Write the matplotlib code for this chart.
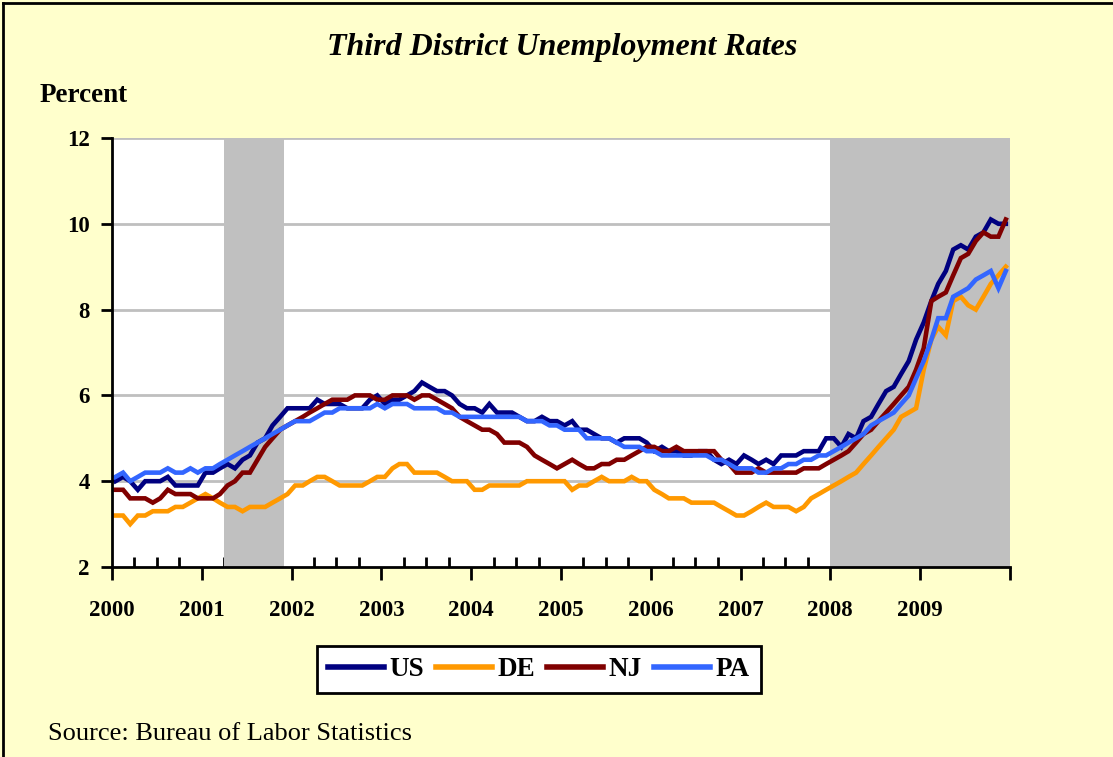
import matplotlib
matplotlib.use("Agg")
import matplotlib.pyplot as plt
import matplotlib.dates as mdates
from matplotlib.ticker import FuncFormatter
import pandas as pd

plt.rcParams['font.family'] = ['Liberation Serif', 'DejaVu Serif']

# ---- data (monthly, Jan 2000 - Dec 2009, percent) ----
us = [4.0, 4.1, 4.0, 3.8, 4.0, 4.0, 4.0, 4.1, 3.9, 3.9, 3.9, 3.9,
      4.2, 4.2, 4.3, 4.4, 4.3, 4.5, 4.6, 4.9, 5.0, 5.3, 5.5, 5.7,
      5.7, 5.7, 5.7, 5.9, 5.8, 5.8, 5.8, 5.7, 5.7, 5.7, 5.9, 6.0,
      5.8, 5.9, 5.9, 6.0, 6.1, 6.3, 6.2, 6.1, 6.1, 6.0, 5.8, 5.7,
      5.7, 5.6, 5.8, 5.6, 5.6, 5.6, 5.5, 5.4, 5.4, 5.5, 5.4, 5.4,
      5.3, 5.4, 5.2, 5.2, 5.1, 5.0, 5.0, 4.9, 5.0, 5.0, 5.0, 4.9,
      4.7, 4.8, 4.7, 4.7, 4.6, 4.6, 4.7, 4.7, 4.5, 4.4, 4.5, 4.4,
      4.6, 4.5, 4.4, 4.5, 4.4, 4.6, 4.6, 4.6, 4.7, 4.7, 4.7, 5.0,
      5.0, 4.8, 5.1, 5.0, 5.4, 5.5, 5.8, 6.1, 6.2, 6.5, 6.8, 7.3,
      7.7, 8.2, 8.6, 8.9, 9.4, 9.5, 9.4, 9.7, 9.8, 10.1, 10.0, 10.0]

de = [3.2, 3.2, 3.0, 3.2, 3.2, 3.3, 3.3, 3.3, 3.4, 3.4, 3.5, 3.6,
      3.7, 3.6, 3.5, 3.4, 3.4, 3.3, 3.4, 3.4, 3.4, 3.5, 3.6, 3.7,
      3.9, 3.9, 4.0, 4.1, 4.1, 4.0, 3.9, 3.9, 3.9, 3.9, 4.0, 4.1,
      4.1, 4.3, 4.4, 4.4, 4.2, 4.2, 4.2, 4.2, 4.1, 4.0, 4.0, 4.0,
      3.8, 3.8, 3.9, 3.9, 3.9, 3.9, 3.9, 4.0, 4.0, 4.0, 4.0, 4.0,
      4.0, 3.8, 3.9, 3.9, 4.0, 4.1, 4.0, 4.0, 4.0, 4.1, 4.0, 4.0,
      3.8, 3.7, 3.6, 3.6, 3.6, 3.5, 3.5, 3.5, 3.5, 3.4, 3.3, 3.2,
      3.2, 3.3, 3.4, 3.5, 3.4, 3.4, 3.4, 3.3, 3.4, 3.6, 3.7, 3.8,
      3.9, 4.0, 4.1, 4.2, 4.4, 4.6, 4.8, 5.0, 5.2, 5.5, 5.6, 5.7,
      6.6, 7.3, 7.6, 7.4, 8.2, 8.3, 8.1, 8.0, 8.3, 8.6, 8.8, 9.0]

nj = [3.8, 3.8, 3.6, 3.6, 3.6, 3.5, 3.6, 3.8, 3.7, 3.7, 3.7, 3.6,
      3.6, 3.6, 3.7, 3.9, 4.0, 4.2, 4.2, 4.5, 4.8, 5.0, 5.2, 5.3,
      5.4, 5.5, 5.6, 5.7, 5.8, 5.9, 5.9, 5.9, 6.0, 6.0, 6.0, 5.9,
      5.9, 6.0, 6.0, 6.0, 5.9, 6.0, 6.0, 5.9, 5.8, 5.7, 5.5, 5.4,
      5.3, 5.2, 5.2, 5.1, 4.9, 4.9, 4.9, 4.8, 4.6, 4.5, 4.4, 4.3,
      4.4, 4.5, 4.4, 4.3, 4.3, 4.4, 4.4, 4.5, 4.5, 4.6, 4.7, 4.8,
      4.8, 4.7, 4.7, 4.8, 4.7, 4.7, 4.7, 4.7, 4.7, 4.5, 4.4, 4.2,
      4.2, 4.2, 4.3, 4.2, 4.2, 4.2, 4.2, 4.2, 4.3, 4.3, 4.3, 4.4,
      4.5, 4.6, 4.7, 4.9, 5.1, 5.2, 5.4, 5.6, 5.8, 6.0, 6.2, 6.6,
      7.1, 8.2, 8.3, 8.4, 8.8, 9.2, 9.3, 9.6, 9.8, 9.7, 9.7, 10.1]

pa = [4.1, 4.2, 4.0, 4.1, 4.2, 4.2, 4.2, 4.3, 4.2, 4.2, 4.3, 4.2,
      4.3, 4.3, 4.4, 4.5, 4.6, 4.7, 4.8, 4.9, 5.0, 5.1, 5.2, 5.3,
      5.4, 5.4, 5.4, 5.5, 5.6, 5.6, 5.7, 5.7, 5.7, 5.7, 5.7, 5.8,
      5.7, 5.8, 5.8, 5.8, 5.7, 5.7, 5.7, 5.7, 5.6, 5.6, 5.5, 5.5,
      5.5, 5.5, 5.5, 5.5, 5.5, 5.5, 5.5, 5.4, 5.4, 5.4, 5.3, 5.3,
      5.2, 5.2, 5.2, 5.0, 5.0, 5.0, 5.0, 4.9, 4.8, 4.8, 4.8, 4.7,
      4.7, 4.6, 4.6, 4.6, 4.6, 4.6, 4.6, 4.6, 4.5, 4.5, 4.4, 4.3,
      4.3, 4.3, 4.2, 4.2, 4.3, 4.3, 4.4, 4.4, 4.5, 4.5, 4.6, 4.6,
      4.7, 4.8, 4.9, 5.0, 5.1, 5.3, 5.4, 5.5, 5.6, 5.8, 6.0, 6.4,
      6.8, 7.3, 7.8, 7.8, 8.3, 8.4, 8.5, 8.7, 8.8, 8.9, 8.5, 8.9]

series_names = ['US', 'DE', 'NJ', 'PA']
series_colors = ['#000080', '#FF9900', '#800000', '#3366FF']
recessions = [('2001-04-01', '2001-12-01'), ('2008-01-01', '2010-01-01')]

dates = pd.date_range('2000-01-01', periods=len(us), freq='MS') + pd.Timedelta(days=14)

# ---- figure ----
W, H = 1113, 757
fig = plt.figure(figsize=(W / 100, H / 100), dpi=100, facecolor='#FFFFCC')
ax = fig.add_axes([112 / W, 1 - 567 / H, (1010 - 112) / W, (567 - 138) / H])
ax.set_facecolor('white')

ax.set_ylim(2, 12)
ax.set_yticks([2, 4, 6, 8, 10, 12])
ax.set_xlim(pd.Timestamp('2000-01-01'), pd.Timestamp('2010-01-01'))

for yv in [4, 6, 8, 10, 12]:
    ax.axhline(yv, color='#BFBFBF', lw=2, zorder=1)

for s, e in recessions:
    ax.axvspan(pd.Timestamp(s), pd.Timestamp(e), color='#C0C0C0', lw=0, zorder=2)

for vals, name, col in zip([us, de, nj, pa], series_names, series_colors):
    ax.plot(dates, vals, color=col, lw=3.3, label=name, zorder=3,
            solid_joinstyle='miter', clip_on=True)

for side in ['top', 'right']:
    ax.spines[side].set_visible(False)
for side in ['left', 'bottom']:
    ax.spines[side].set_linewidth(2)
    ax.spines[side].set_color('black')
    ax.spines[side].set_zorder(5)

ax.xaxis.set_major_locator(mdates.YearLocator())
ax.xaxis.set_minor_locator(mdates.MonthLocator(bymonth=[4, 7, 10]))
ax.xaxis.set_major_formatter(FuncFormatter(
    lambda v, p: '' if mdates.num2date(v).year >= 2010 else str(mdates.num2date(v).year)))

ax.tick_params(axis='x', which='major', direction='out', length=9, width=2,
               pad=15, labelsize=16.5)
ax.tick_params(axis='x', which='minor', direction='in', length=7, width=2)
ax.tick_params(axis='y', which='major', direction='out', length=8, width=2,
               pad=8, labelsize=16.5)
for lab in ax.get_xticklabels() + ax.get_yticklabels():
    lab.set_fontweight('bold')

# ---- texts ----
fig.text(562 / W, 1 - 48 / H, 'Third District Unemployment Rates', ha='center', va='center',
         fontsize=23, fontweight='bold', fontstyle='italic')
fig.text(40 / W, 1 - 96 / H, 'Percent', ha='left', va='center', fontsize=19.5, fontweight='bold')
fig.text(48 / W, 1 - 734 / H, 'Source: Bureau of Labor Statistics', ha='left', va='center',
         fontsize=19)

leg = ax.legend(loc='center', bbox_to_anchor=(539 / W, 1 - 669.5 / H),
                bbox_transform=fig.transFigure, ncol=4, frameon=True, fancybox=False,
                prop={'weight': 'bold', 'size': 19.5}, handlelength=2.05,
                handletextpad=0.22, columnspacing=0.44, borderpad=0.4,
                borderaxespad=0)
leg.get_frame().set_edgecolor('black')
leg.get_frame().set_linewidth(2)
leg.get_frame().set_facecolor('white')
leg.get_frame().set_alpha(1)
for line in leg.get_lines():
    line.set_linewidth(4)

# figure border (top and left visible)
fig.add_artist(plt.Line2D([3 / W, 3 / W], [0, 1 - 3 / H], transform=fig.transFigure,
                          color='black', lw=2))
fig.add_artist(plt.Line2D([3 / W, 1], [1 - 3 / H, 1 - 3 / H], transform=fig.transFigure,
                          color='black', lw=2))

fig.savefig('out.png', dpi=100, facecolor=fig.get_facecolor())
